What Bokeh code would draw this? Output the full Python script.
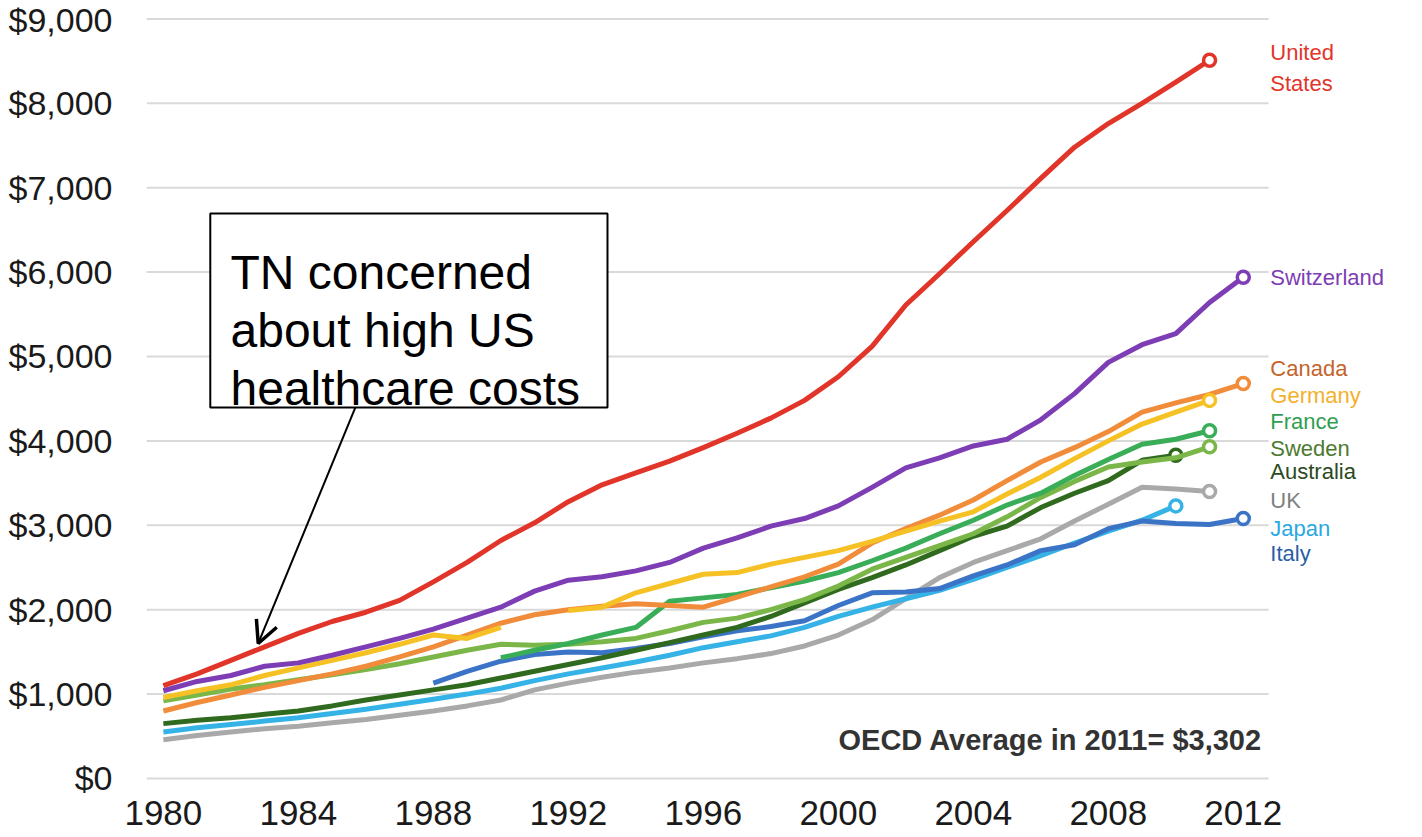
import math
from bokeh.plotting import figure
from bokeh.models import (Range1d, FixedTicker, NumeralTickFormatter, Label,
                          BoxAnnotation, Arrow, OpenHead, ColumnDataSource)
from bokeh.core.properties import value
from bokeh.embed import file_html
from bokeh.resources import INLINE

N = None
years = list(range(1980, 2013))
x_ticks = [1980, 1984, 1988, 1992, 1996, 2000, 2004, 2008, 2012]
y_ticks = [0, 1000, 2000, 3000, 4000, 5000, 6000, 7000, 8000, 9000]

us = [1100, 1240, 1400, 1560, 1720, 1860, 1970, 2110, 2330, 2560, 2820, 3030, 3280,
      3480, 3620, 3760, 3920, 4090, 4270, 4480, 4760, 5120, 5610, 5980, 6360, 6730,
      7110, 7480, 7760, 8000, 8250, 8510, N]
switzerland = [1040, 1150, 1220, 1330, 1370, 1460, 1560, 1660, 1770, 1900, 2030, 2220,
               2350, 2390, 2460, 2560, 2730, 2850, 2990, 3080, 3230, 3450, 3680, 3800,
               3940, 4020, 4250, 4560, 4930, 5140, 5270, 5640, 5940]
canada = [800, 900, 990, 1080, 1160, 1240, 1330, 1440, 1560, 1700, 1840, 1940, 2000,
          2040, 2070, 2050, 2030, 2150, 2270, 2390, 2540, 2790, 2960, 3120, 3300, 3530,
          3750, 3920, 4110, 4340, 4450, 4550, 4680]
germany = [960, 1040, 1110, 1220, 1310, 1400, 1490, 1590, 1700, 1660, 1790, N, 1990,
           2030, 2200, 2310, 2420, 2440, 2540, 2620, 2700, 2810, 2930, 3050, 3160, 3370,
           3570, 3790, 4000, 4200, 4340, 4480, N]
france = [N, N, N, N, N, N, N, N, N, N, 1430, 1520, 1600, 1700, 1790, 2100, 2140, 2180,
          2260, 2340, 2440, 2580, 2730, 2900, 3060, 3240, 3380, 3590, 3780, 3960, 4020,
          4120, N]
sweden = [920, 990, 1060, 1110, 1170, 1230, 1290, 1360, 1440, 1520, 1590, 1580, 1590,
          1620, 1660, 1750, 1850, 1900, 2000, 2120, 2280, 2480, 2620, 2760, 2900, 3100,
          3330, 3520, 3690, 3750, 3800, 3930, N]
australia = [650, 690, 720, 760, 800, 860, 930, 990, 1050, 1110, 1190, 1270, 1350, 1430,
             1520, 1610, 1700, 1790, 1920, 2080, 2240, 2380, 2530, 2700, 2870, 2990, 3210,
             3380, 3530, 3770, 3830, N, N]
uk = [460, 510, 550, 590, 620, 660, 700, 750, 800, 860, 930, 1050, 1130, 1200, 1260,
      1310, 1370, 1420, 1480, 1570, 1700, 1880, 2130, 2380, 2560, 2700, 2840, 3050, 3250,
      3450, 3430, 3400, N]
japan = [550, 600, 640, 680, 720, 770, 820, 880, 940, 1000, 1070, 1160, 1240, 1310, 1380,
         1460, 1550, 1620, 1690, 1790, 1920, 2030, 2130, 2230, 2360, 2500, 2640, 2790,
         2930, 3060, 3230, N, N]
italy = [N, N, N, N, N, N, N, N, 1130, 1270, 1390, 1470, 1500, 1490, 1540, 1600, 1680,
         1750, 1800, 1870, 2050, 2200, 2210, 2250, 2400, 2530, 2700, 2770, 2960, 3050,
         3020, 3010, 3080]

# drawing order: back to front
series = [
    ("UK", uk, "#a9a9a9"),
    ("Japan", japan, "#36b3e6"),
    ("Italy", italy, "#3b74c6"),
    ("Australia", australia, "#2f6a1e"),
    ("Sweden", sweden, "#7ab648"),
    ("France", france, "#39ad57"),
    ("Canada", canada, "#f08c3a"),
    ("Germany", germany, "#f6c125"),
    ("Switzerland", switzerland, "#7d3db4"),
    ("United States", us, "#e2352a"),
]

label_names = ["United", "States", "Switzerland", "Canada", "Germany", "France",
               "Sweden", "Australia", "UK", "Japan", "Italy"]
label_colors = ["#e2352a", "#e2352a", "#7d3db4", "#c4632c", "#f2b12c", "#2f9e50",
                "#4d7a30", "#2b4a1e", "#808080", "#2aa9e0", "#2b5ea8"]
label_y = [8600, 8235, 5936, 4858, 4538, 4230, 3910, 3637, 3294, 2962, 2666]

FONT = "Liberation Sans"

p = figure(width=1422, height=837, output_backend="svg", toolbar_location=None,
           x_range=Range1d(1979.5, 2017.31), y_range=Range1d(-83, 9218),
           min_border_left=146, min_border_right=0, min_border_top=0,
           min_border_bottom=52)
p.outline_line_color = None
p.background_fill_color = "white"
p.border_fill_color = "white"
p.grid.visible = False

for ax in (p.xaxis[0], p.yaxis[0]):
    ax.axis_line_color = None
    ax.major_tick_line_color = None
    ax.minor_tick_line_color = None
    ax.major_label_text_font = FONT
    ax.major_label_text_color = "#1a1a1a"
p.xaxis.major_label_text_font_size = "35px"
p.yaxis.major_label_text_font_size = "34px"
p.xaxis.ticker = FixedTicker(ticks=x_ticks)
p.yaxis.ticker = FixedTicker(ticks=y_ticks)
p.yaxis.formatter = NumeralTickFormatter(format="$0,0")
p.yaxis.major_label_standoff = 28
p.xaxis.major_label_standoff = 9

# gridlines (end before the country labels)
p.segment(x0=[1979.5] * len(y_ticks), x1=[2012.75] * len(y_ticks), y0=y_ticks,
          y1=y_ticks, line_color="#d9d9d9", line_width=2)

for name, vals, color in series:
    ys = [math.nan if v is None else v for v in vals]
    p.line(years, ys, line_color=color, line_width=5, line_join="round")
    last = max(i for i, v in enumerate(vals) if v is not None)
    p.scatter([years[last]], [vals[last]], marker="circle", size=12,
              fill_color="white", line_color=color, line_width=3.5)

src = ColumnDataSource(dict(x=[2012.8] * len(label_names), y=label_y,
                            t=label_names, c=label_colors))
p.text(x="x", y="y", text="t", text_color="c", source=src,
       text_font=value(FONT), text_font_size="22px", text_baseline="middle",
       text_align="left")

p.add_layout(Label(x=2012.56, y=462, text="OECD Average in 2011= $3,302",
                   text_font=FONT, text_font_size="29px", text_font_style="bold",
                   text_color="#333333", text_align="right",
                   text_baseline="middle"))

p.add_layout(BoxAnnotation(left=1981.39, right=1993.16, bottom=4396, top=6694,
                           fill_color="white", fill_alpha=1.0,
                           line_color="black", line_alpha=1.0, line_width=2))
for txt, yb in [("TN concerned", 5995), ("about high US", 5308),
                ("healthcare costs", 4621)]:
    p.add_layout(Label(x=1981.99, y=yb, text=txt, text_font=FONT,
                       text_font_size="48px", text_color="black",
                       text_baseline="alphabetic", text_align="left"))

p.add_layout(Arrow(x_start=1985.69, y_start=4396, x_end=1982.81, y_end=1600,
                   line_color="black", line_width=2,
                   end=OpenHead(size=22, line_width=3.5, line_color="black")))

open("out.html", "w").write(file_html(p, INLINE))
